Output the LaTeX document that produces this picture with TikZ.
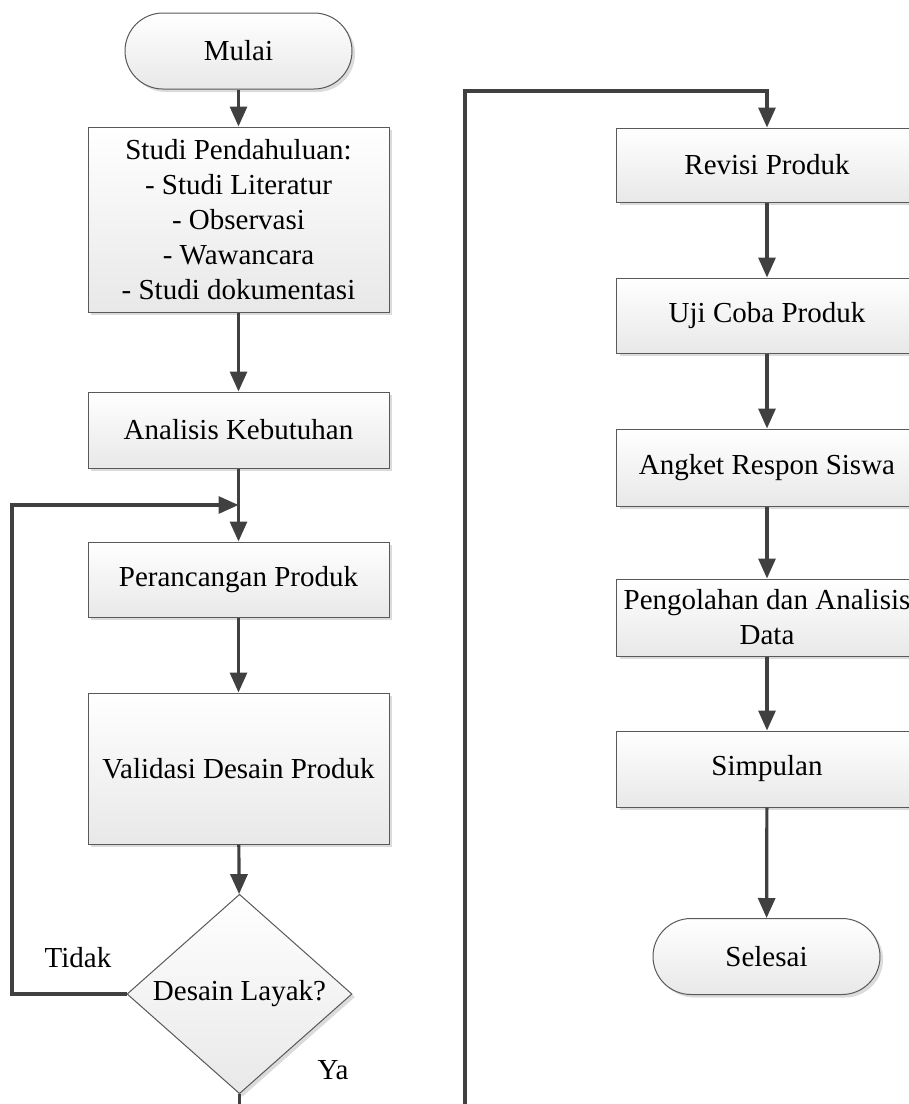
\documentclass[tikz,border=0pt]{standalone}
\usepackage{fontspec}
\setmainfont{Liberation Serif}
\usetikzlibrary{arrows.meta,shapes.geometric,shadows}
\begin{document}
\begin{tikzpicture}[x=1pt,y=-1pt,
  every node/.style={font=\fontsize{29}{35}\selectfont, text=black},
  base/.style={draw=black!65, line width=1pt, top color=white, bottom color=black!9,
    drop shadow={shadow xshift=3pt,shadow yshift=-3pt,fill=black!14,opacity=1},
    align=center, inner sep=2pt},
  proc/.style={base, rectangle, minimum width=301pt},
  term/.style={base, rectangle, rounded corners=38pt, minimum width=227pt, minimum height=76pt},
  dec/.style={base, diamond, minimum width=225pt, minimum height=150pt, inner sep=0pt},
  arr/.style={draw=black!75, line width=3.2pt, -{Triangle[length=20pt,width=17pt]}},
  lbl/.style={inner sep=0pt}]
\useasboundingbox (0,0) rectangle (909,1104);
\clip (0,0) rectangle (909,1104);

% left column
\node[term] (start) at (238.5,51) {Mulai};
\node[proc, minimum height=185pt] (studi) at (238.5,219.5)
  {Studi Pendahuluan:\\- Studi Literatur\\- Observasi\\- Wawancara\\- Studi dokumentasi};
\node[proc, minimum height=76pt] (anal) at (238.5,430) {Analisis Kebutuhan};
\node[proc, minimum height=75pt] (peran) at (238.5,579.5) {Perancangan Produk};
\node[proc, minimum height=151pt] (valid) at (238.5,768.5) {Validasi Desain Produk};
\node[dec] (desain) at (239.5,994) {Desain Layak?};
\node[lbl] (tidak) at (78,958) {Tidak};
\node[lbl] (ya) at (333,1070) {Ya};

% right column
\node[proc, minimum height=74pt] (revisi) at (767,165) {Revisi Produk};
\node[proc, minimum height=75pt] (uji) at (767,315.5) {Uji Coba Produk};
\node[proc, minimum height=77pt] (angket) at (767,467.5) {Angket Respon Siswa};
\node[proc, minimum height=77pt] (olah) at (767,617.5) {Pengolahan dan Analisis\\Data};
\node[proc, minimum height=76pt] (simp) at (767,769) {Simpulan};
\node[term] (selesai) at (766.5,956.5) {Selesai};

% helper coordinates
\coordinate (join) at (238.5,505);
\coordinate (loopx) at (12,994);
\coordinate (low) at (239.5,1140);
\coordinate (up) at (465,91);

% connectors
\draw[arr] (start) -- (studi);
\draw[arr] (studi) -- (anal);
\draw[arr] (anal) -- (peran);
\draw[arr] (peran) -- (valid);
\draw[arr] (valid) -- (desain);
\draw[arr] (desain.west) -- (loopx) |- (join);
\draw[arr] (desain.south) -- (low) -| (up) -| (revisi.north);
\draw[arr] (revisi) -- (uji);
\draw[arr] (uji) -- (angket);
\draw[arr] (angket) -- (olah);
\draw[arr] (olah) -- (simp);
\draw[arr] (simp) -- (selesai);
\end{tikzpicture}
\end{document}
